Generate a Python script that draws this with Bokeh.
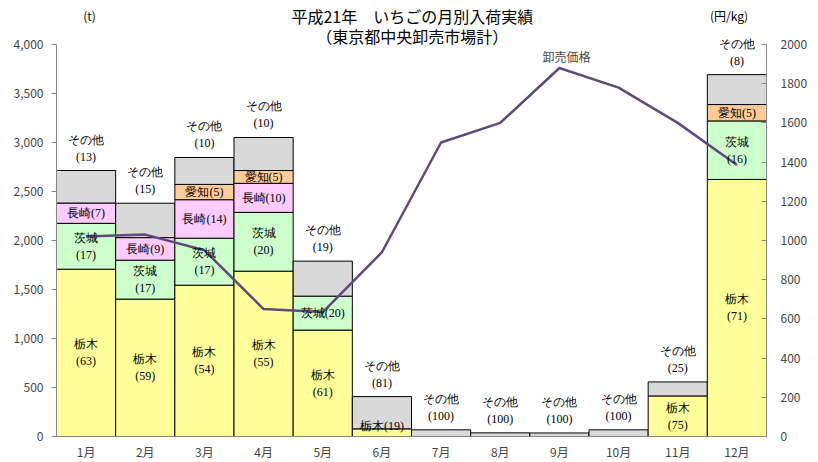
from bokeh.plotting import figure
from bokeh.layouts import column
from bokeh.models import (ColumnDataSource, LinearAxis, Range1d, FactorRange,
                          LabelSet, Label, FixedTicker, NumeralTickFormatter)
from bokeh.core.properties import value
from bokeh.embed import file_html
from bokeh.resources import INLINE

# ---------------- data ----------------
months = ["1月", "2月", "3月", "4月", "5月", "6月", "7月", "8月", "9月", "10月", "11月", "12月"]
series_names = ["栃木", "茨城", "長崎", "愛知", "その他"]
tochigi  = [1707, 1402, 1544, 1687, 1086, 78, 0, 0, 0, 0, 414, 2623]
ibaraki  = [468, 397, 479, 600, 346, 0, 0, 0, 0, 0, 0, 597]
nagasaki = [207, 230, 393, 296, 0, 0, 0, 0, 0, 0, 0, 0]
aichi    = [0, 0, 156, 131, 0, 0, 0, 0, 0, 0, 0, 167]
other    = [332, 351, 275, 337, 357, 329, 68, 37, 36, 68, 143, 305]
# share (%) labels as printed on the chart
tochigi_pct  = [63, 59, 54, 55, 61, 19, None, None, None, None, 75, 71]
ibaraki_pct  = [17, 17, 17, 20, 20, None, None, None, None, None, None, 16]
nagasaki_pct = [7, 9, 14, 10, None, None, None, None, None, None, None, None]
aichi_pct    = [None, None, 5, 5, None, None, None, None, None, None, None, 5]
other_pct    = [13, 15, 10, 10, 19, 81, 100, 100, 100, 100, 25, 8]
# wholesale price (yen/kg)
price = [1020, 1030, 950, 650, 635, 940, 1500, 1600, 1880, 1780, 1600, 1385]

title_main = "平成21年　いちごの月別入荷実績"
title_sub = "（東京都中央卸売市場計）"
unit_left = "(t)"
unit_right = "(円/kg)"

# ---------------- styles ----------------
colors = ["#FFFF99", "#CCFFCC", "#FFCCFF", "#FFCC99", "#D9D9D9"]
FONT = "Noto Sans CJK JP"
single_line = ({("長崎", m) for m in months} | {("愛知", m) for m in months}
               | {("茨城", "5月"), ("栃木", "6月")})

W = 818
H = 462
HEAD_H = 48
FRAME_TOP = 30        # page px of the plotting frame top (axis 4000 sits at 44)
Y_MAX = 4000
Y_END = Y_MAX * (437 - FRAME_TOP) / 393.0
P_MAX = 2000
P_END = P_MAX * Y_END / Y_MAX

values = [tochigi, ibaraki, nagasaki, aichi, other]
pcts = [tochigi_pct, ibaraki_pct, nagasaki_pct, aichi_pct, other_pct]

bx, bb, bt, bc = [], [], [], []
lx, ly, lt, ld = [], [], [], []
for i, m in enumerate(months):
    base = 0
    for s, name in enumerate(series_names):
        v = values[s][i]
        if v <= 0:
            continue
        bx.append(m); bb.append(base); bt.append(base + v); bc.append(colors[s])
        pc = pcts[s][i]
        if name == "その他":
            lx += [m, m]; ly += [base + v, base + v]
            lt += [name, f"({pc})"]; ld += [31, 14]
        else:
            mid = max(base + v / 2, 110)
            if (name, m) in single_line:
                lx.append(m); ly.append(mid); lt.append(f"{name}({pc})"); ld.append(0)
            else:
                lx += [m, m]; ly += [mid, mid]
                lt += [name, f"({pc})"]; ld += [8.5, -8.5]
        base += v

# ---------------- header (titles and units) ----------------
head = figure(width=W, height=HEAD_H, x_range=Range1d(0, W), y_range=Range1d(0, HEAD_H),
              output_backend="svg", toolbar_location=None, title_location=None,
              x_axis_type=None, y_axis_type=None, min_border=0)
head.outline_line_color = None
head.xgrid.visible = False
head.ygrid.visible = False
head_src = ColumnDataSource(dict(x=[410, 410, 38, 775],
                                 y=[HEAD_H - 15, HEAD_H - 35.5, HEAD_H - 15, HEAD_H - 15],
                                 text=[title_main, title_sub, unit_left, unit_right],
                                 size=["16px", "16px", "12px", "12px"]))
head.text(x="x", y="y", text="text", source=head_src, text_align="center",
          text_baseline="middle", text_font=value(FONT), text_font_size="size",
          text_color="black")

# ---------------- main chart (overlaps header, transparent) ----------------
p = figure(x_range=FactorRange(*months, range_padding=0), y_range=Range1d(0, Y_END),
           width=W, height=H, output_backend="svg", toolbar_location=None,
           title_location=None, margin=(-HEAD_H, 0, 0, 0),
           min_border_left=56, min_border_right=52, min_border_top=FRAME_TOP,
           min_border_bottom=25)
p.extra_y_ranges = {"price": Range1d(0, P_END)}
p.outline_line_color = None
p.background_fill_color = None
p.border_fill_color = None
p.xgrid.visible = False
p.ygrid.visible = False

bar_src = ColumnDataSource(dict(x=bx, bottom=bb, top=bt, color=bc))
p.vbar(x="x", bottom="bottom", top="top", width=1.0, fill_color="color",
       line_color="black", line_width=1, source=bar_src)

p.line(x=months, y=price, y_range_name="price", line_color="#604A7B", line_width=2.5)

lab_src = ColumnDataSource(dict(x=lx, y=ly, text=lt, dy=ld))
p.add_layout(LabelSet(x="x", y="y", text="text", y_offset="dy", source=lab_src,
                      text_align="center", text_baseline="middle",
                      text_font=FONT, text_font_size="12px", text_color="black"))

p.add_layout(Label(x=months.index("9月") + 0.5, y=price[months.index("9月")], y_range_name="price",
                   text="卸売価格", x_offset=7, y_offset=11, text_align="center",
                   text_baseline="middle", text_font=FONT, text_font_size="12px"))

# axes
ax_col = "#868686"
p.xaxis.axis_line_color = ax_col
p.xaxis.major_tick_line_color = None
p.xaxis.major_tick_out = 0
p.xaxis.major_tick_in = 0
p.xaxis.minor_tick_line_color = None
p.xaxis.major_label_text_font = FONT
p.xaxis.major_label_text_font_size = "12px"
p.xaxis.major_label_standoff = 6

p.yaxis.bounds = (0, Y_MAX)
p.yaxis.ticker = FixedTicker(ticks=list(range(0, Y_MAX + 1, 500)))
p.yaxis.formatter = NumeralTickFormatter(format="0,0")
p.yaxis.axis_line_color = ax_col
p.yaxis.major_tick_line_color = ax_col
p.yaxis.major_tick_out = 5
p.yaxis.major_tick_in = 0
p.yaxis.minor_tick_line_color = None
p.yaxis.major_label_text_font = FONT
p.yaxis.major_label_text_font_size = "12px"
p.yaxis.major_label_standoff = 8

ra = LinearAxis(y_range_name="price", bounds=(0, P_MAX),
                ticker=FixedTicker(ticks=list(range(0, P_MAX + 1, 200))))
ra.axis_line_color = ax_col
ra.major_tick_line_color = ax_col
ra.major_tick_in = 5
ra.major_tick_out = 0
ra.minor_tick_line_color = None
ra.major_label_text_font = FONT
ra.major_label_text_font_size = "12px"
ra.major_label_standoff = 14
p.add_layout(ra, "right")

layout = column(head, p, spacing=0)
open("out.html", "w").write(file_html(layout, INLINE))
